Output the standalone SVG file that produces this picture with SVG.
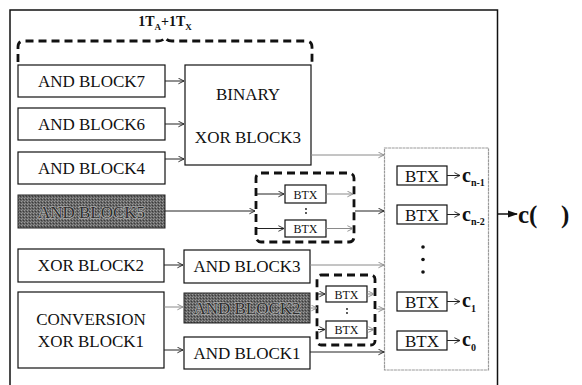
<svg xmlns="http://www.w3.org/2000/svg" width="582" height="385" viewBox="0 0 582 385">
  <defs>
    <pattern id="stipple" width="3" height="3" patternUnits="userSpaceOnUse">
      <rect width="3" height="3" fill="#666"/>
      <rect x="0" y="0" width="1" height="1" fill="#9c9c9c"/>
      <rect x="2" y="1" width="1" height="1" fill="#3a3a3a"/>
      <rect x="1" y="2" width="1" height="1" fill="#8a8a8a"/>
    </pattern>
    <marker id="open" viewBox="0 0 10 10" refX="9" refY="5" markerWidth="7" markerHeight="7" markerUnits="userSpaceOnUse" orient="auto">
      <path d="M1,1 L9,5 L1,9" fill="none" stroke="#222" stroke-width="1.3"/>
    </marker>
    <marker id="openg" viewBox="0 0 10 10" refX="9" refY="5" markerWidth="7" markerHeight="7" markerUnits="userSpaceOnUse" orient="auto">
      <path d="M1,1 L9,5 L1,9" fill="none" stroke="#8a8a8a" stroke-width="1.3"/>
    </marker>
    <marker id="solid" viewBox="0 0 10 10" refX="9" refY="5" markerWidth="14" markerHeight="10" markerUnits="userSpaceOnUse" orient="auto">
      <path d="M0,1.5 L10,5 L0,8.5 Z" fill="#111"/>
    </marker>
  </defs>
  <style>
    .blk { fill: #fff; stroke: #111; stroke-width: 1.2; }
    .dark { fill: url(#stipple); stroke: #222; stroke-width: 1; }
    .dash { fill: none; stroke: #111; stroke-width: 2.8; stroke-dasharray: 8 5; }
    .ln { fill: none; stroke: #222; stroke-width: 1; marker-end: url(#open); }
    .lg { fill: none; stroke: #8a8a8a; stroke-width: 1; marker-end: url(#openg); }
  </style>

  <!-- outer frame, open at the bottom -->
  <path d="M10,385 V10 H497.5 V385" fill="none" stroke="#111" stroke-width="1.5"/>

  <!-- timing brace and label -->
  <path class="dash" d="M18,62 V47 Q18,41 24,41 H158 Q163,41 165,37.5 Q167,41 172,41 H306 Q312,41 312,47 V62"/>
  <text x="165" y="26" text-anchor="middle" fill="#111" style="font-family: 'Liberation Serif', serif; font-size: 14px; font-weight: bold">1T<tspan font-size="9" dy="4">A</tspan><tspan dy="-4">+1T</tspan><tspan font-size="9" dy="4">X</tspan></text>

  <!-- left column -->
  <g id="and7"><rect class="blk" x="18" y="65" width="147" height="32"/><text x="91.5" y="87" text-anchor="middle" fill="#111" style="font-family: 'Liberation Serif', serif; font-size: 17px">AND BLOCK7</text></g>
  <g id="and6"><rect class="blk" x="18" y="108" width="147" height="32"/><text x="91.5" y="130" text-anchor="middle" fill="#111" style="font-family: 'Liberation Serif', serif; font-size: 17px">AND BLOCK6</text></g>
  <g id="and4"><rect class="blk" x="18" y="152" width="147" height="32"/><text x="91.5" y="174" text-anchor="middle" fill="#111" style="font-family: 'Liberation Serif', serif; font-size: 17px">AND BLOCK4</text></g>
  <g id="and5"><rect class="dark" x="18" y="195" width="147" height="33"/><text x="91.5" y="218" text-anchor="middle" fill="#2e2e2e" stroke="#bdbdbd" stroke-width="1.2" paint-order="stroke" style="font-family: 'Liberation Serif', serif; font-size: 17px">AND BLOCK5</text></g>
  <g id="xor2"><rect class="blk" x="18" y="249" width="146" height="33"/><text x="91" y="271" text-anchor="middle" fill="#111" style="font-family: 'Liberation Serif', serif; font-size: 17px">XOR BLOCK2</text></g>
  <g id="xor1"><rect class="blk" x="18" y="292" width="146" height="76"/><text x="91" y="325" text-anchor="middle" fill="#111" style="font-family: 'Liberation Serif', serif; font-size: 17px">CONVERSION</text><text x="91" y="347" text-anchor="middle" fill="#111" style="font-family: 'Liberation Serif', serif; font-size: 17px">XOR BLOCK1</text></g>

  <!-- middle column -->
  <g id="xor3"><rect class="blk" x="185" y="65" width="126" height="100"/><text x="248" y="100" text-anchor="middle" fill="#111" style="font-family: 'Liberation Serif', serif; font-size: 17px">BINARY</text><text x="248" y="143" text-anchor="middle" fill="#111" style="font-family: 'Liberation Serif', serif; font-size: 17px">XOR BLOCK3</text></g>
  <g id="and3"><rect class="blk" x="184" y="250" width="126" height="33"/><text x="247" y="272" text-anchor="middle" fill="#111" style="font-family: 'Liberation Serif', serif; font-size: 17px">AND BLOCK3</text></g>
  <g id="and2"><rect class="dark" x="184" y="293" width="126" height="30"/><text x="247" y="314" text-anchor="middle" fill="#2e2e2e" stroke="#bdbdbd" stroke-width="1.2" paint-order="stroke" style="font-family: 'Liberation Serif', serif; font-size: 17px">AND BLOCK2</text></g>
  <g id="and1"><rect class="blk" x="184" y="337" width="126" height="32"/><text x="247" y="359" text-anchor="middle" fill="#111" style="font-family: 'Liberation Serif', serif; font-size: 17px">AND BLOCK1</text></g>

  <!-- upper BTX group -->
  <g id="btxgroup1">
    <rect class="dash" x="256" y="173" width="98" height="69" rx="5"/>
    <rect class="blk" x="285" y="185" width="41" height="18"/><text x="305.5" y="198.5" text-anchor="middle" fill="#111" style="font-family: 'Liberation Serif', serif; font-size: 12px">BTX</text>
    <rect class="blk" x="285" y="220" width="41" height="17"/><text x="305.5" y="233" text-anchor="middle" fill="#111" style="font-family: 'Liberation Serif', serif; font-size: 12px">BTX</text>
    <circle cx="306" cy="209" r="0.9" fill="#111"/><circle cx="306" cy="213" r="0.9" fill="#111"/>
  </g>

  <!-- lower BTX group -->
  <g id="btxgroup2">
    <rect class="dash" x="317" y="275" width="58" height="70" rx="4"/>
    <rect class="blk" x="326" y="286" width="41" height="16"/><text x="346.5" y="298.5" text-anchor="middle" fill="#111" style="font-family: 'Liberation Serif', serif; font-size: 12px">BTX</text>
    <rect class="blk" x="326" y="321" width="41" height="17"/><text x="346.5" y="334" text-anchor="middle" fill="#111" style="font-family: 'Liberation Serif', serif; font-size: 12px">BTX</text>
    <circle cx="347" cy="309" r="0.9" fill="#111"/><circle cx="347" cy="313" r="0.9" fill="#111"/>
  </g>

  <!-- output register block -->
  <g id="outbank">
    <rect x="384.5" y="148" width="104" height="222" fill="none" stroke="#9a9a9a" stroke-width="1.2" stroke-dasharray="3 0.6"/>
    <rect class="blk" x="397" y="166" width="50" height="19"/><text x="422" y="181.5" text-anchor="middle" fill="#111" style="font-family: 'Liberation Serif', serif; font-size: 17px">BTX</text>
    <rect class="blk" x="397" y="205" width="50" height="19"/><text x="422" y="220.5" text-anchor="middle" fill="#111" style="font-family: 'Liberation Serif', serif; font-size: 17px">BTX</text>
    <rect class="blk" x="397" y="292" width="50" height="19"/><text x="422" y="307.5" text-anchor="middle" fill="#111" style="font-family: 'Liberation Serif', serif; font-size: 17px">BTX</text>
    <rect class="blk" x="397" y="331" width="50" height="19"/><text x="422" y="346.5" text-anchor="middle" fill="#111" style="font-family: 'Liberation Serif', serif; font-size: 17px">BTX</text>
    <circle cx="423" cy="247" r="1.8" fill="#111"/>
    <circle cx="423" cy="259.5" r="1.8" fill="#111"/>
    <circle cx="423" cy="272" r="1.8" fill="#111"/>
    <text x="462" y="182" fill="#111" style="font-family: 'Liberation Serif', serif; font-size: 20px; font-weight: bold">c<tspan font-size="10" dy="4">n-1</tspan></text>
    <text x="462" y="221" fill="#111" style="font-family: 'Liberation Serif', serif; font-size: 20px; font-weight: bold">c<tspan font-size="10" dy="4">n-2</tspan></text>
    <text x="462" y="307" fill="#111" style="font-family: 'Liberation Serif', serif; font-size: 20px; font-weight: bold">c<tspan font-size="10" dy="5">1</tspan></text>
    <text x="462" y="346" fill="#111" style="font-family: 'Liberation Serif', serif; font-size: 20px; font-weight: bold">c<tspan font-size="10" dy="5">0</tspan></text>
  </g>

  <!-- final output -->
  <g id="output">
    <text x="518" y="223" fill="#111" style="font-family: 'Liberation Serif', serif; font-size: 25px; font-weight: bold">c(</text>
    <text x="561" y="223" fill="#111" style="font-family: 'Liberation Serif', serif; font-size: 25px; font-weight: bold">)</text>
  </g>

  <g id="connectors">
    <path class="ln" d="M165,81 H184"/>
    <path class="ln" d="M165,124 H184"/>
    <path class="ln" d="M165,159 H184"/>
    <path class="ln" d="M165,211 H255"/>
    <path class="ln" d="M164,265 H183"/>
    <path class="lg" d="M164,307 H183"/>
    <path class="ln" d="M164,350 H183"/>
    <path class="lg" d="M311,155 H384"/>
    <path class="ln" d="M355,211 H384"/>
    <path class="lg" d="M310,265 H384"/>
    <path class="lg" d="M310,308 H317"/>
    <path class="lg" d="M376,309 H384"/>
    <path class="ln" d="M310,352 H384"/>
    <path class="ln" d="M257,194 H284"/>
    <path class="ln" d="M257,228.5 H284"/>
    <path class="lg" d="M326,194 H353"/>
    <path class="lg" d="M326,228.5 H353"/>
    <path class="ln" d="M318,294 H325"/>
    <path class="ln" d="M318,329.5 H325"/>
    <path class="lg" d="M367,294 H374"/>
    <path class="lg" d="M367,329.5 H374"/>
    <path class="ln" d="M447,175.5 H460"/>
    <path class="ln" d="M447,214.5 H460"/>
    <path class="ln" d="M447,301.5 H460"/>
    <path class="ln" d="M447,340.5 H460"/>
    <path d="M498,214 H517" fill="none" stroke="#111" stroke-width="1.5" marker-end="url(#solid)"/>
  </g>
</svg>
